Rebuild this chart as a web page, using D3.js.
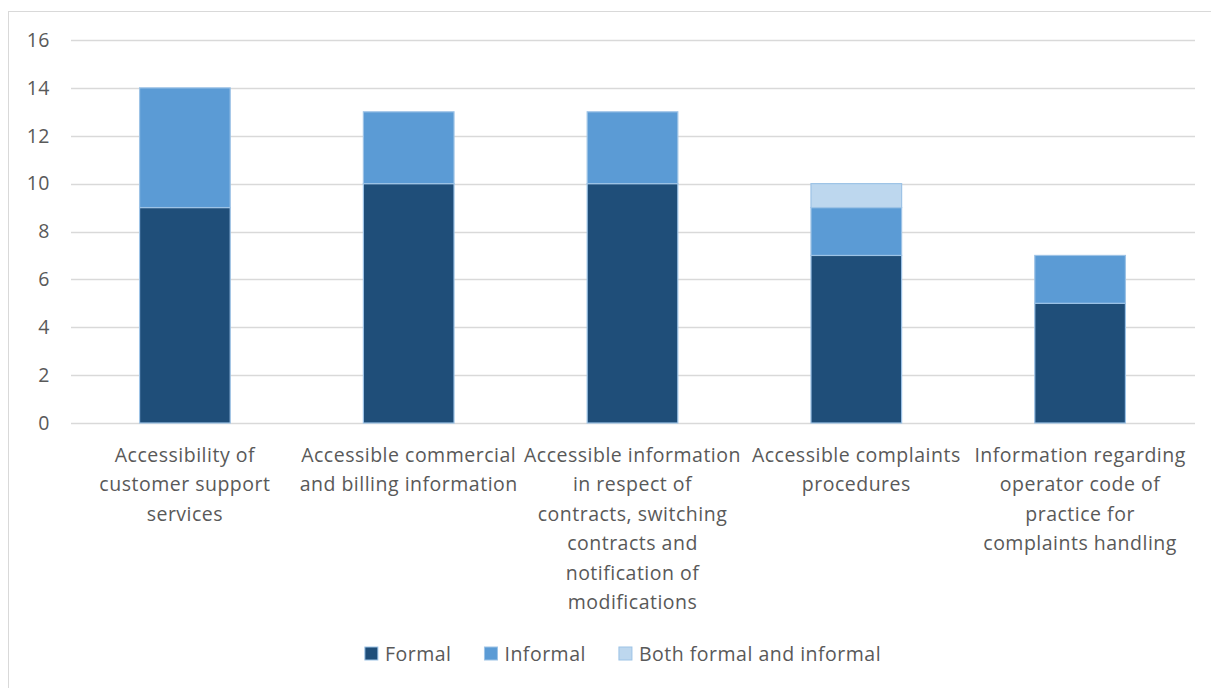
<!DOCTYPE html>
<html>
<head>
<meta charset="utf-8">
<script src="https://cdn.jsdelivr.net/npm/d3@7"></script>
<style>
  body { margin: 0; background: #fff; }
  svg text { font-family: "Open Sans", sans-serif; fill: #595959; letter-spacing: 0.5px; }
</style>
</head>
<body>
<svg id="chart"></svg>
<script>
// categories, split into the lines they are drawn on
const categories = [
  ["Accessibility of", "customer support", "services"],
  ["Accessible commercial", "and billing information"],
  ["Accessible information", "in respect of", "contracts, switching", "contracts and", "notification of", "modifications"],
  ["Accessible complaints", "procedures"],
  ["Information regarding", "operator code of", "practice for", "complaints handling"]
];
const seriesNames = ["Formal", "Informal", "Both formal and informal"];
const formal = [9, 10, 10, 7, 5];
const informal = [5, 3, 3, 2, 2];
const both = [0, 0, 0, 1, 0];
const yTicks = [0, 2, 4, 6, 8, 10, 12, 14, 16];
const colors = ["#1f4e79", "#5b9bd5", "#bdd7ee"];

const width = 1211, height = 688;
const margin = {top: 40, right: 19, bottom: 265, left: 73};

const svg = d3.select("#chart").attr("width", width).attr("height", height);

// outer chart border
svg.append("rect")
  .attr("x", 8.5).attr("y", 11.5)
  .attr("width", width + 10).attr("height", height + 10)
  .attr("fill", "none").attr("stroke", "#d9d9d9");

const rows = categories.map((c, i) => ({key: i, Formal: formal[i], Informal: informal[i], "Both formal and informal": both[i]}));
const stacked = d3.stack().keys(seriesNames)(rows);

const x = d3.scaleBand()
  .domain(d3.range(categories.length))
  .range([margin.left, width - margin.right])
  .paddingInner(0.595).paddingOuter(0.2975);
const y = d3.scaleLinear().domain([0, 16]).range([height - margin.bottom, margin.top]);

// grid
svg.append("g")
  .selectAll("line").data(yTicks).enter().append("line")
  .attr("x1", 71).attr("x2", width - 16)
  .attr("y1", d => Math.round(y(d)) + 0.5).attr("y2", d => Math.round(y(d)) + 0.5)
  .attr("stroke", "#d9d9d9").attr("stroke-width", 1.3);

// y labels
svg.append("g")
  .selectAll("text").data(yTicks).enter().append("text")
  .attr("x", 50).attr("y", d => y(d))
  .attr("dy", "0.35em").attr("text-anchor", "end")
  .style("font-size", "19.5px")
  .text(d => d);

// bars
svg.append("g")
  .selectAll("g").data(stacked).enter().append("g")
  .attr("fill", (d, i) => colors[i])
  .selectAll("rect").data(d => d.filter(p => p[1] > p[0])).enter().append("rect")
  .attr("x", d => x(d.data.key))
  .attr("width", x.bandwidth())
  .attr("y", d => y(d[1]))
  .attr("height", d => y(d[0]) - y(d[1]))
  .attr("stroke", "#9dc3e6").attr("stroke-width", 1.2);

// category labels
const catG = svg.append("g");
categories.forEach((lines, i) => {
  const cx = x(i) + x.bandwidth() / 2;
  const t = catG.append("text")
    .attr("text-anchor", "middle")
    .style("font-size", "19.5px")
    .attr("x", cx)
    .attr("y", 462);
  t.selectAll("tspan").data(lines).enter().append("tspan")
    .attr("x", cx)
    .attr("dy", (d, j) => j === 0 ? 0 : 29.4)
    .text(d => d);
});

// legend, laid out in a row centred under the chart
const leg = svg.append("g");
let lx = 0;
seriesNames.forEach((name, i) => {
  const g = leg.append("g").attr("transform", `translate(${lx},0)`);
  g.append("rect")
    .attr("x", 0).attr("y", 647)
    .attr("width", 13).attr("height", 13)
    .attr("fill", colors[i]).attr("stroke", "#9dc3e6").attr("stroke-width", 1);
  const t = g.append("text")
    .attr("x", 20).attr("y", 654)
    .attr("dy", "0.35em")
    .style("font-size", "19.5px")
    .text(name);
  lx += 20 + t.node().getComputedTextLength() + 33;
});
const legW = lx - 33;
leg.attr("transform", `translate(${623 - legW / 2},0)`);
</script>
</body>
</html>
